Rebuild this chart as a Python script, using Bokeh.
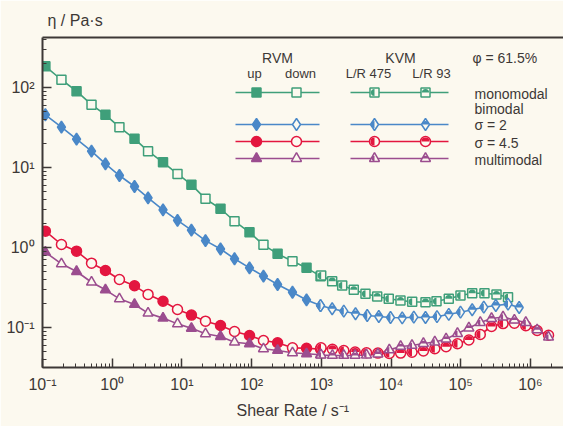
import numpy as np
from bokeh.plotting import figure
from bokeh.models import Range1d, Label, LogAxis, Title, CustomJSTickFormatter
from bokeh.embed import file_html
from bokeh.resources import INLINE

# ---------------- data ----------------
# RVM (rotational viscometer), shear rate in 1/s; up / down alternate
rvm_rate = [0.110, 0.187, 0.308, 0.505, 0.80, 1.27, 2.09, 3.27, 5.36, 8.65,
            13.7, 21.8, 35.8, 56.9, 93.3, 148, 236, 386, 614, 975]
mono_rvm_eta = [184, 125, 90, 61, 45.6, 31.9, 22.8, 16.0, 11.6, 8.3,
                6.1, 4.06, 3.05, 2.13, 1.55, 1.08, 0.834, 0.674, 0.557, 0.438]
bi2_rvm_eta = [45.6, 31.9, 22.6, 16.0, 11.1, 7.94, 5.79, 4.18, 2.96, 2.18,
               1.65, 1.22, 0.958, 0.723, 0.557, 0.438, 0.345, 0.276, 0.221, 0.188]
bi45_rvm_eta = [1.60, 1.09, 0.90, 0.637, 0.516, 0.398, 0.332, 0.259, 0.213, 0.168,
                0.143, 0.120, 0.106, 0.0891, 0.0794, 0.0688, 0.0644, 0.0557, 0.0551, 0.0537]
multi_rvm_eta = [0.873, 0.625, 0.501, 0.368, 0.296, 0.228, 0.194, 0.151, 0.131, 0.111,
                 0.0977, 0.0834, 0.0772, 0.0655, 0.0626, 0.0542, 0.0516, 0.0483, 0.0469, 0.0456]

# KVM (capillary viscometer), L/R 475 and L/R 93 alternate
mono_kvm_rate = [997, 1432, 1995, 2924, 4305, 6339, 9290, 13680, 20140, 31260,
                 44970, 67450, 99300, 146200, 219300, 326300, 477500]
mono_kvm_eta = [0.447, 0.379, 0.335, 0.296, 0.264, 0.244, 0.229, 0.2175, 0.2096, 0.207,
                0.2126, 0.229, 0.251, 0.2685, 0.2685, 0.2585, 0.239]
bi2_kvm_rate = [975, 1432, 2102, 3097, 4560, 6683, 9840, 14490, 21250, 31260,
                45700, 67450, 99300, 146200, 214400, 319000, 477500, 690000]
bi2_kvm_eta = [0.188, 0.1714, 0.160, 0.1484, 0.1413, 0.1372, 0.1334, 0.1322, 0.1345, 0.1334,
               0.1365, 0.1462, 0.1553, 0.1665, 0.1795, 0.1884, 0.196, 0.178]
kvm_rate = [991, 1443, 2102, 3055, 4453, 6489, 9456, 13750, 20000, 29170,
            42500, 61700, 89900, 131000, 191000, 277000, 405000, 589000, 859000, 1250000, 1820000]
bi45_kvm_eta = [0.0557, 0.0534, 0.0516, 0.0494, 0.0484, 0.0479, 0.0473, 0.0479, 0.0490, 0.0508,
                0.0542, 0.0574, 0.0627, 0.0698, 0.0818, 0.1029, 0.112, 0.1129, 0.105, 0.0917, 0.0799]
multi_kvm_eta = [0.0453, 0.0447, 0.0447, 0.0447, 0.0453, 0.0465, 0.0525, 0.0579, 0.0596, 0.0631,
                 0.0659, 0.0718, 0.0841, 0.0986, 0.1155, 0.1296, 0.1352, 0.124, 0.1155, 0.0936, 0.0756]

series_labels = ["monomodal", "bimodal", "σ = 2", "σ = 4.5", "multimodal"]
legend_heads = ["RVM", "KVM", "φ = 61.5%"]
legend_sub = ["up", "down", "L/R 475", "L/R 93"]
x_title = "Shear Rate / s⁻¹"
y_title = "η / Pa·s"

# ---------------- style / layout ----------------
GREEN, BLUE, RED, PURPLE = "#3f9f7a", "#4a88c8", "#e3163f", "#9b4d8f"
BG = "#fcf9ef"
INK = "#3d3836"
FONT = "Liberation Sans"

series = [
    dict(color=GREEN, marker="square", size=9, r=3.6, down_open=True,
         rvm=mono_rvm_eta, krate=mono_kvm_rate, keta=mono_kvm_eta),
    dict(color=BLUE, marker="diamond", size=12, r=3.4, down_open=False,
         rvm=bi2_rvm_eta, krate=bi2_kvm_rate, keta=bi2_kvm_eta),
    dict(color=RED, marker="circle", size=10, r=4.0, down_open=True,
         rvm=bi45_rvm_eta, krate=kvm_rate, keta=bi45_kvm_eta),
    dict(color=PURPLE, marker="triangle", size=10, r=2.8, down_open=True,
         rvm=multi_rvm_eta, krate=kvm_rate, keta=multi_kvm_eta),
]

W, H = 563, 426
FL, FT, FB = 42, 37, 367          # frame left / top / bottom (pixels)
LX0, LY1 = -1.0, 2.625
XDEC, YDEC = 69.7, 80.0           # pixels per decade
LX1 = LX0 + (W - FL) / XDEC
LY0 = LY1 - (FB - FT) / YDEC

p = figure(width=W, height=H, x_axis_type="log", y_axis_type="log", title=None,
           x_range=Range1d(10**LX0, 10**LX1), y_range=Range1d(10**LY0, 10**LY1),
           output_backend="svg", toolbar_location=None,
           min_border_left=FL, min_border_right=0, min_border_top=FT, min_border_bottom=H - FB)
p.background_fill_color = BG
p.border_fill_color = BG
p.outline_line_color = None
p.grid.visible = False

fmt = CustomJSTickFormatter(code="""
const sup = {"-":"\u207b","0":"\u2070","1":"\u00b9","2":"\u00b2","3":"\u00b3","4":"\u2074",
             "5":"\u2075","6":"\u2076","7":"\u2077","8":"\u2078","9":"\u2079"};
const e = Math.round(Math.log10(tick));
return "10" + String(e).split("").map(c => sup[c]).join("");
""")

for ax in (p.xaxis[0], p.yaxis[0]):
    ax.formatter = fmt
    ax.axis_line_color = INK
    ax.axis_line_width = 2
    ax.major_tick_line_color = INK
    ax.minor_tick_line_color = INK
    ax.major_tick_line_width = 1.5
    ax.major_tick_in = 9
    ax.major_tick_out = 0
    ax.minor_tick_in = 4
    ax.minor_tick_out = 0
    ax.major_label_text_font = FONT
    ax.major_label_text_font_size = "16px"
    ax.major_label_text_color = INK
    ax.major_label_standoff = 8

top_axis = LogAxis(axis_line_color=INK, axis_line_width=2, major_tick_line_color=None,
                   minor_tick_line_color=None, major_label_text_color=None,
                   major_label_text_font_size="1px", major_label_standoff=0)
p.add_layout(top_axis, "above")

p.add_layout(Title(text=y_title, align="left", offset=5, standoff=6, text_font=FONT,
                   text_font_size="16px", text_font_style="normal", text_color=INK), "above")
p.add_layout(Title(text=x_title, align="left", offset=194, standoff=8, text_font=FONT,
                   text_font_size="16px", text_font_style="normal", text_color=INK), "below")


def half(xs, ys, s, side):
    if len(xs) == 0:
        return
    a0, a1 = (np.pi / 2, 3 * np.pi / 2) if side == "left" else (0, np.pi)
    p.wedge(xs, ys, radius=s["r"], radius_units="screen", start_angle=a0, end_angle=a1,
            fill_color=s["color"], line_color=None)


for s in series:
    xs = list(rvm_rate) + list(s["krate"])
    ys = list(s["rvm"]) + list(s["keta"])
    p.line(xs, ys, line_color=s["color"], line_width=1.6)

for s in series:
    c = s["color"]
    p.scatter(rvm_rate[0::2], s["rvm"][0::2], marker=s["marker"], size=s["size"],
              fill_color=c, line_color=c, line_width=1.5)
    p.scatter(rvm_rate[1::2], s["rvm"][1::2], marker=s["marker"], size=s["size"],
              fill_color=BG if s["down_open"] else c, line_color=c, line_width=1.5)
    kx, ky = s["krate"], s["keta"]
    p.scatter(kx, ky, marker=s["marker"], size=s["size"], fill_color=BG, line_color=c, line_width=1.5)
    half(kx[0::2], ky[0::2], s, "left")
    half(kx[1::2], ky[1::2], s, "top")


# ---------------- legend (inside the frame) ----------------
def fx(px):
    return 10 ** (LX0 + (px - FL) / XDEC)


def fy(py):
    return 10 ** (LY1 - (py - FT) / YDEC)


def lab(text, x, y, align="center", size="13px"):
    p.add_layout(Label(x=x, y=y, text=text, text_align=align, text_baseline="middle",
                       text_font=FONT, text_font_size=size, text_color=INK))


row_y = [92, 124, 141, 158]
for s, ry in zip(series, row_y):
    c = s["color"]
    p.line([fx(235), fx(319)], [fy(ry)] * 2, line_color=c, line_width=1.6)
    p.line([fx(350), fx(448)], [fy(ry)] * 2, line_color=c, line_width=1.6)
    p.scatter([fx(256)], [fy(ry)], marker=s["marker"], size=s["size"], fill_color=c,
              line_color=c, line_width=1.5)
    p.scatter([fx(296), fx(374), fx(425)], [fy(ry)] * 3, marker=s["marker"], size=s["size"],
              fill_color=BG, line_color=c, line_width=1.5)
    half([fx(374)], [fy(ry)], s, "left")
    half([fx(425)], [fy(ry)], s, "top")

lab(legend_heads[0], fx(277), fy(57), size="14px")
lab(legend_heads[1], fx(400), fy(57), size="14px")
lab(legend_heads[2], fx(472), fy(57), align="left", size="14px")
lab(legend_sub[0], fx(254), fy(73))
lab(legend_sub[1], fx(300), fy(73))
lab(legend_sub[2], fx(368), fy(73))
lab(legend_sub[3], fx(431), fy(73))
for text, ly in zip(series_labels, [93, 108, 124, 142, 159]):
    lab(text, fx(474), fy(ly), align="left", size="14px")

open("out.html", "w").write(file_html(p, INLINE))
